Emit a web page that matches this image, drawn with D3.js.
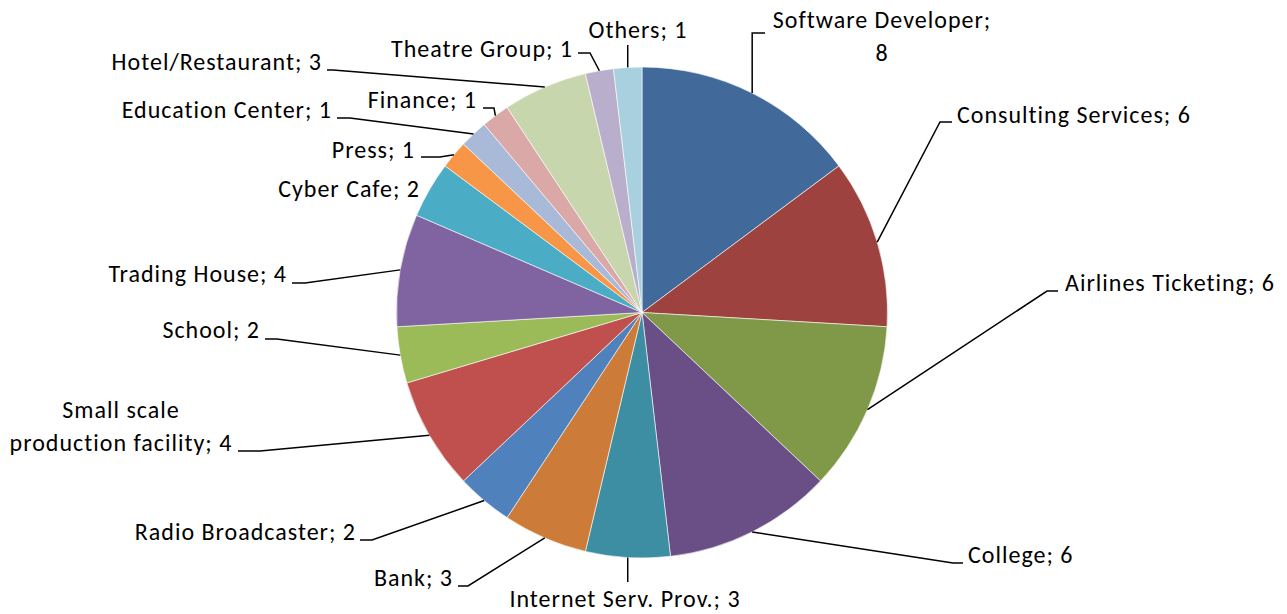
<!DOCTYPE html>
<html>
<head>
<meta charset="utf-8">
<script src="https://cdn.jsdelivr.net/npm/d3@7"></script>
<style>
  body { margin: 0; background: #fff; }
  svg text { font-family: Carlito, Calibri, Lato, sans-serif; font-size: 24px; letter-spacing: 1px; fill: #000; }
</style>
</head>
<body>
<svg width="1287" height="614"></svg>
<script>
const categories = [
  "Software Developer", "Consulting Services", "Airlines Ticketing", "College",
  "Internet Serv. Prov.", "Bank", "Radio Broadcaster", "Small scale production facility",
  "School", "Trading House", "Cyber Cafe", "Press", "Education Center", "Finance",
  "Hotel/Restaurant", "Theatre Group", "Others"
];
const counts = [8, 6, 6, 6, 3, 3, 2, 4, 2, 4, 2, 1, 1, 1, 3, 1, 1];

const sliceColors = [
  "#416a9b", "#9d423f", "#7f9949", "#6a4f86", "#3d8da3", "#cc7b38",
  "#4f81bd", "#c0504d", "#9bbb59", "#8064a2", "#4bacc6", "#f79646",
  "#a9b9d8", "#d9a8a7", "#c7d6ac", "#b9afcc", "#a8d0de"
];

// label placement (absolute page px): text anchor point, text-anchor,
// leader elbow [x,y] (x null = straight up/down from the slice), tail end x
const labelLayout = [
  { tx: 882, ty: 28, anchor: "middle", elbow: [null, 33], tail: 765, br: "Software Developer;" },
  { tx: 957, ty: 123, anchor: "start", elbow: [940, 122], tail: 952 },
  { tx: 1065, ty: 291, anchor: "start", elbow: [1047, 291], tail: 1058 },
  { tx: 968, ty: 563, anchor: "start", elbow: [953, 563], tail: 963 },
  { tx: 625, ty: 607, anchor: "middle", elbow: [null, 582], tail: null },
  { tx: 453, ty: 586, anchor: "end", elbow: [468, 586], tail: 458 },
  { tx: 356, ty: 540, anchor: "end", elbow: [372, 540], tail: 360 },
  { tx: 121, ty: 418, anchor: "middle", elbow: [260, 451], tail: 238, br: "Small scale" },
  { tx: 260, ty: 338, anchor: "end", elbow: [277, 339], tail: 265 },
  { tx: 287, ty: 282, anchor: "end", elbow: [305, 283], tail: 292 },
  { tx: 420, ty: 197, anchor: "end", elbow: null, tail: null },
  { tx: 415, ty: 158, anchor: "end", elbow: [440, 157], tail: 421 },
  { tx: 332, ty: 118, anchor: "end", elbow: [350, 118], tail: 337 },
  { tx: 477, ty: 108, anchor: "end", elbow: [494, 108], tail: 483 },
  { tx: 322, ty: 70, anchor: "end", elbow: [333, 70], tail: 327 },
  { tx: 573, ty: 57, anchor: "end", elbow: [590, 53], tail: 578 },
  { tx: 638, ty: 38, anchor: "middle", elbow: [null, 45], tail: null }
];

const cx = 642, cy = 312.5, radius = 245.5;

const svg = d3.select("svg");
const g = svg.append("g").attr("transform", `translate(${cx},${cy})`);

const pie = d3.pie().sort(null).value((d, i) => counts[i]);
const arcs = pie(categories);

const arc = d3.arc().innerRadius(0).outerRadius(radius);
const edge = d3.arc().innerRadius(radius).outerRadius(radius);

g.selectAll("path.slice")
  .data(arcs)
  .join("path")
  .attr("class", "slice")
  .attr("d", arc)
  .attr("fill", (d, i) => sliceColors[i])
  .attr("stroke", "#fff")
  .attr("stroke-width", 0.6);

// leader lines
const line = d3.line();
arcs.forEach((d, i) => {
  const L = labelLayout[i];
  if (!L.elbow) return;
  const [px, py] = edge.centroid(d);
  const sx = cx + px, sy = cy + py;
  const ex = L.elbow[0] == null ? sx : L.elbow[0];
  const ey = L.elbow[1];
  const pts = [[sx, sy], [ex, ey]];
  if (L.tail != null) pts.push([L.tail, ey]);
  svg.append("path")
    .attr("d", line(pts))
    .attr("fill", "none")
    .attr("stroke", "#000")
    .attr("stroke-width", 1.5);
});

// labels
arcs.forEach((d, i) => {
  const L = labelLayout[i];
  const full = `${categories[i]}; ${counts[i]}`;
  const lines = L.br ? [L.br, full.slice(L.br.length).trim()] : [full];
  const t = svg.append("text")
    .attr("x", L.tx)
    .attr("y", L.ty)
    .attr("text-anchor", L.anchor);
  lines.forEach((s, k) => {
    t.append("tspan")
      .attr("x", L.tx)
      .attr("dy", k === 0 ? 0 : 33)
      .text(s);
  });
});
</script>
</body>
</html>
